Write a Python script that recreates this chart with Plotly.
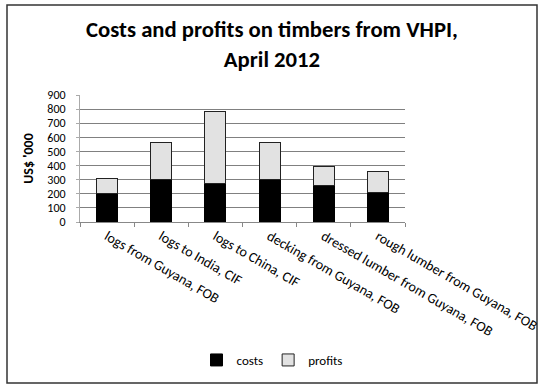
import plotly.graph_objects as go

categories = ["logs from Guyana, FOB", "logs to India, CIF", "logs to China, CIF",
              "decking from Guyana, FOB", "dressed lumber from Guyana, FOB",
              "rough lumber from Guyana, FOB"]
costs = [200, 300, 270, 300, 260, 210]
profits = [110, 260, 510, 260, 130, 150]
y_ticks = [0, 100, 200, 300, 400, 500, 600, 700, 800, 900]

FONT = "Carlito, Lato, sans-serif"
W, H = 544, 390
L, R, T, B = 80, 405, 95, 222  # plot area in px

fig = go.Figure()
fig.add_trace(go.Bar(x=categories, y=costs, name="costs",
                     marker=dict(color="#000000", line=dict(color="#000000", width=1))))
fig.add_trace(go.Bar(x=categories, y=profits, name="profits",
                     marker=dict(color="#e2e2e2", line=dict(color="#222222", width=1))))

def px2paper_x(px):
    return (px - L) / (R - L)

def px2paper_y(py):
    return (B - py) / (B - T)

fig.add_shape(type="rect", xref="paper", yref="paper",
              x0=px2paper_x(7), x1=px2paper_x(537), y0=px2paper_y(383), y1=px2paper_y(5),
              line=dict(color="#333333", width=1.5), fillcolor="rgba(0,0,0,0)", layer="below")

fig.update_layout(
    width=W, height=H,
    margin=dict(l=L, r=W - R, t=T, b=H - B, pad=0, autoexpand=False),
    barmode="stack",
    bargap=0.61,
    plot_bgcolor="white", paper_bgcolor="white",
    font=dict(family=FONT, size=13, color="#000000"),
    title=dict(text="<b>Costs and profits on timbers from VHPI,<br>April 2012</b>",
               x=0.5, xanchor="center", y=1 - 37 / H, yanchor="top",
               xref="container", yref="container",
               font=dict(family=FONT, size=22.7, color="#000000")),
    xaxis=dict(tickangle=30, tickson="boundaries", ticks="outside", ticklen=4,
               tickcolor="#888888", showline=True, linecolor="#888888", linewidth=1,
               showgrid=False, tickfont=dict(size=14), fixedrange=True, automargin=False),
    yaxis=dict(range=[0, 900], tickvals=y_ticks, ticktext=[str(v) for v in y_ticks],
               showgrid=True, gridcolor="#808080", gridwidth=1,
               showline=True, linecolor="#aaaaaa", linewidth=1,
               ticks="outside", ticklen=3, tickcolor="#aaaaaa",
               ticklabelstandoff=8, automargin=False, fixedrange=True,
               tickfont=dict(size=12),
               title=dict(text="<b>US$ '000</b>", font=dict(size=14), standoff=10)),
    legend=dict(orientation="h", x=0.5, xanchor="center", y=1 - 360 / H, yanchor="middle",
                xref="container", yref="container", traceorder="normal",
                font=dict(size=13), itemwidth=30, tracegroupgap=0,
                bgcolor="rgba(0,0,0,0)"),
    showlegend=True,
)

fig.write_html("out.html", config={"displayModeBar": False},
               post_script="document.body.style.margin='0';")
